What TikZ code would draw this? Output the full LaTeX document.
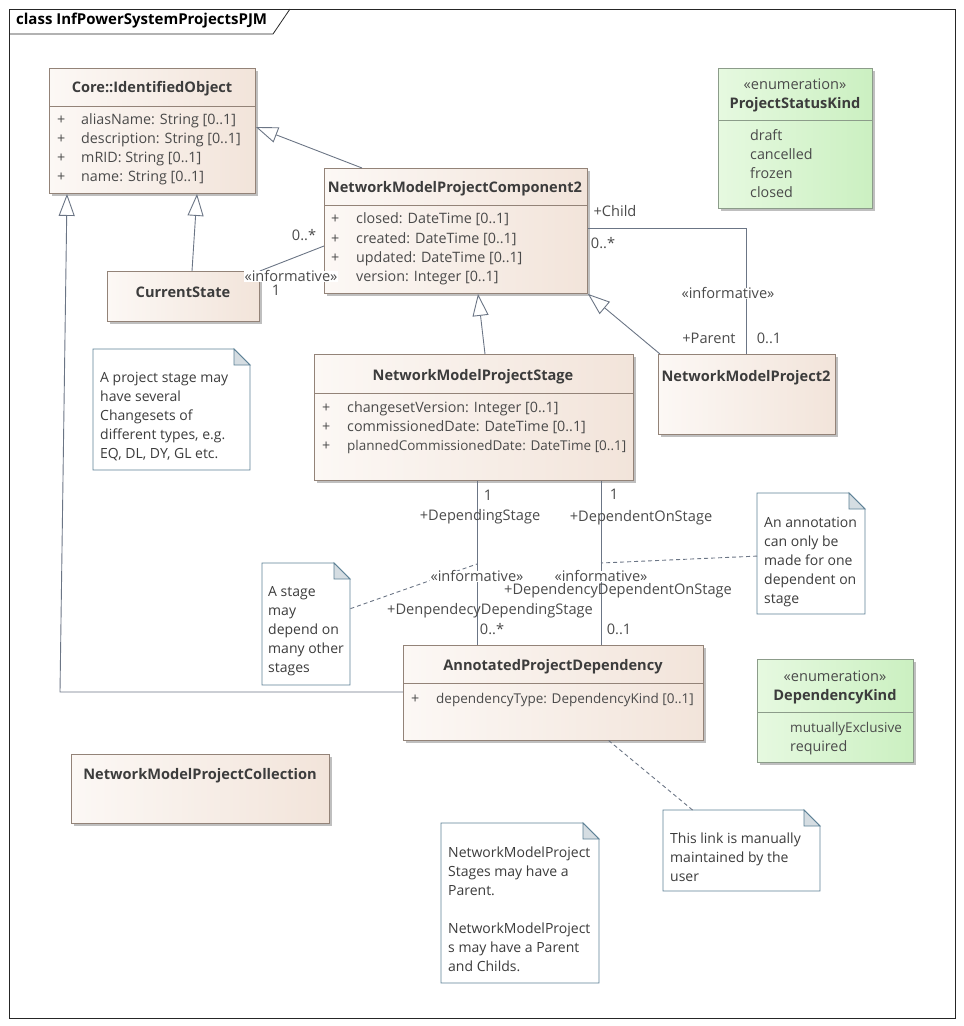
\documentclass[tikz,border=0pt]{standalone}
\usepackage{fontspec}
\setmainfont{Open Sans}
\usetikzlibrary{arrows.meta,shadows}
\definecolor{clsL}{HTML}{FCF8F5}
\definecolor{clsR}{HTML}{F2E4DA}
\definecolor{clsB}{HTML}{938378}
\definecolor{enL}{HTML}{E6F9E0}
\definecolor{enR}{HTML}{CBF0C1}
\definecolor{enB}{HTML}{8C9C8A}
\definecolor{noteB}{HTML}{5D8196}
\definecolor{noteEar}{HTML}{D5DDE2}
\definecolor{lnC}{HTML}{6B7585}
\definecolor{txC}{HTML}{4A4A4A}
\definecolor{nmC}{HTML}{3C3C3C}
\newcommand\umlnote[5]{%
  \draw[noteB, fill=white, line width=0.9pt] (#2,#3) -- ({#2+#4-16},#3) -- ({#2+#4},{#3+16}) -- ({#2+#4},{#3+#5}) -- (#2,{#3+#5}) -- cycle;
  \filldraw[draw=noteB, fill=noteEar, line width=0.9pt] ({#2+#4-16},#3) -- ({#2+#4-16},{#3+16}) -- ({#2+#4},{#3+16}) -- cycle;
  \node[inner sep=0, minimum width=#4pt, minimum height=#5pt, anchor=north west] (#1) at (#2,#3) {};
}
\begin{document}
\begin{tikzpicture}[x=1pt,y=-1pt,
  shad/.style={drop shadow={shadow xshift=2.5pt, shadow yshift=-2.5pt, fill=black, opacity=0.25}},
  cls/.style={draw=clsB, line width=0.9pt, left color=clsL, right color=clsR, shad, inner sep=0, anchor=north west},
  enumbox/.style={draw=enB, line width=0.9pt, left color=enL, right color=enR, shad, inner sep=0, anchor=north west},
  cname/.style={font=\fontsize{14.6pt}{17pt}\selectfont\bfseries, text=nmC, inner sep=0, text height=11pt, text depth=0pt},
  attr/.style={font=\fontsize{14.3pt}{17pt}\selectfont, text=txC, inner sep=0, anchor=west, text height=11pt, text depth=0pt},
  small/.style={font=\fontsize{13.5pt}{17pt}\selectfont},
  lbl/.style={font=\fontsize{14.6pt}{17pt}\selectfont, text=txC, inner sep=0, text height=11pt, text depth=0pt},
  stereo/.style={lbl, fill=white, inner xsep=1pt},
  notetext/.style={font=\fontsize{14pt}{19pt}\selectfont, text=nmC, inner sep=0, anchor=north west, align=left},
  gen/.style={draw=lnC, line width=0.9pt, -{Triangle[length=22pt,width=16pt,fill=white]}},
  assoc/.style={draw=lnC, line width=0.9pt},
  notelink/.style={draw=lnC, line width=0.9pt, dash pattern=on 4pt off 3pt},
  sep/.style={draw=clsB, line width=0.9pt}
]
\useasboundingbox (0,0) rectangle (964,1026);
% frame
\draw[line width=0.8pt, draw=black!85] (9,9) rectangle (955,1018);
\draw[line width=0.8pt, draw=black!85] (9,34) -- (273,34) -- (290,9);
\node[font=\fontsize{15pt}{17pt}\selectfont\bfseries, inner sep=0, anchor=west] (title) at (16,21) {class InfPowerSystemProjectsPJM};

% ===== classes =====
\node[cls, minimum width=206pt, minimum height=125pt] (io) at (49,68) {};
\draw[sep] (49,106) -- (255,106);
\node[cname] (ioN) at (152,87) {Core::IdentifiedObject};
\node[attr] (ioP1) at (57,119) {+};
\node[attr] (ioA1) at (81,119) {aliasName: String [0..1]};
\node[attr] (ioP2) at (57,138) {+};
\node[attr] (ioA2) at (81,138) {description: String [0..1]};
\node[attr] (ioP3) at (57,157) {+};
\node[attr] (ioA3) at (81,157) {mRID: String [0..1]};
\node[attr] (ioP4) at (57,176) {+};
\node[attr] (ioA4) at (81,176) {name: String [0..1]};

\node[cls, minimum width=263pt, minimum height=125pt] (nmpc) at (324,168) {};
\draw[sep] (324,205) -- (587,205);
\node[cname] (nmpcN) at (455,187) {NetworkModelProjectComponent2};
\node[attr] (nmpcP1) at (331,218) {+};
\node[attr] (nmpcA1) at (356,218) {closed: DateTime [0..1]};
\node[attr] (nmpcP2) at (331,238) {+};
\node[attr] (nmpcA2) at (356,238) {created: DateTime [0..1]};
\node[attr] (nmpcP3) at (331,257) {+};
\node[attr] (nmpcA3) at (356,257) {updated: DateTime [0..1]};
\node[attr] (nmpcA4) at (356,276) {version: Integer [0..1]};

\node[cls, minimum width=152pt, minimum height=50pt] (cs) at (107,271) {};
\node[cname] (csN) at (183,292) {CurrentState};

\node[cls, minimum width=319pt, minimum height=126pt] (stage) at (314,354) {};
\draw[sep] (314,393) -- (633,393);
\node[cname] (stageN) at (473,375) {NetworkModelProjectStage};
\node[attr] (stP1) at (322,407) {+};
\node[attr] (stA1) at (347,407) {changesetVersion: Integer [0..1]};
\node[attr] (stP2) at (322,426) {+};
\node[attr] (stA2) at (347,426) {commissionedDate: DateTime [0..1]};
\node[attr] (stP3) at (322,445) {+};
\node[attr, small] (stA3) at (347,445) {plannedCommissionedDate: DateTime [0..1]};

\node[cls, minimum width=177pt, minimum height=80pt] (nmp) at (658,354) {};
\node[cname] (nmpN) at (746,376) {NetworkModelProject2};

\node[enumbox, minimum width=154pt, minimum height=140pt] (psk) at (718,68) {};
\draw[draw=enB, line width=0.9pt] (718,120) -- (872,120);
\node[lbl] (pskS) at (795,84) {«enumeration»};
\node[cname] (pskN) at (795,103) {ProjectStatusKind};
\node[attr] (psk1) at (750,135) {draft};
\node[attr] (psk2) at (750,154) {cancelled};
\node[attr] (psk3) at (750,173) {frozen};
\node[attr] (psk4) at (750,192) {closed};

\node[cls, minimum width=300pt, minimum height=95pt] (apd) at (403,645) {};
\draw[sep] (403,683) -- (703,683);
\node[cname] (apdN) at (553,665) {AnnotatedProjectDependency};
\node[attr] (apdP1) at (411,698) {+};
\node[attr, small] (apdA1) at (436,698) {dependencyType: DependencyKind [0..1]};

\node[enumbox, minimum width=156pt, minimum height=103pt] (dk) at (757,659) {};
\draw[draw=enB, line width=0.9pt] (757,712) -- (913,712);
\node[lbl] (dkS) at (835,676) {«enumeration»};
\node[cname] (dkN) at (835,695) {DependencyKind};
\node[attr, small] (dk1) at (790,727) {mutuallyExclusive};
\node[attr] (dk2) at (790,746) {required};

\node[cls, minimum width=258pt, minimum height=69pt] (coll) at (71,754) {};
\node[cname] (collN) at (200,774) {NetworkModelProjectCollection};

% ===== notes =====
\umlnote{n1}{93}{349}{157}{121}
\node[notetext] (n1t) at (100,372) {A project stage may\\have several\\Changesets of\\different types, e.g.\\EQ, DL, DY, GL etc.};
\umlnote{n2}{262}{563}{88}{122}
\node[notetext] (n2t) at (268,586) {A stage\\may\\depend on\\many other\\stages};
\umlnote{n3}{757}{493}{108}{121}
\node[notetext] (n3t) at (764,517) {An annotation\\can only be\\made for one\\dependent on\\stage};
\umlnote{n4}{663}{810}{157}{81}
\node[notetext] (n4t) at (670,833) {This link is manually\\maintained by the\\user};
\umlnote{n5}{441}{823}{158}{160}
\node[notetext] (n5t) at (448,847) {NetworkModelProject\\Stages may have a\\Parent.\\[19pt]NetworkModelProject\\s may have a Parent\\and Childs.};

% ===== connectors =====
\draw[gen] (cs.north -| 192,0) -- (io.south -| 197,0);
\draw[gen] (apd.west |- 0,692) -- (60,692) -- (io.south -| 67,0);
\draw[gen] (nmpc.north -| 362,0) -- (io.east |- 0,127);
\draw[gen] (stage.north -| 485,0) -- (nmpc.south -| 478,0);
\draw[gen] (nmp.north west) ++(2,0) -- (nmpc.south east);
\draw[assoc] (nmpc.west |- 0,246) -- (cs.north east);
\draw[assoc] (nmpc.east |- 0,228) -| (nmp.north -| 746,0);
\draw[assoc] (stage.south -| 477,0) -- (apd.north -| 477,0);
\draw[assoc] (stage.south -| 601,0) -- (apd.north -| 601,0);
\coordinate (l1m) at (477,564);
\coordinate (l2m) at (601,563);
\coordinate (apdb) at (608,740);
\draw[notelink] (n2) -- (l1m);
\draw[notelink] (n3) -- (l2m);
\draw[notelink] (n4) -- (apdb);

% ===== labels =====
\node[lbl] (c1m) at (304,235) {0..*};
\node[lbl] (c1n) at (276,290) {1};
\node[stereo] (c1s) at (291,276) {«informative»};
\node[lbl] (c2a) at (615,211) {+Child};
\node[lbl] (c2b) at (603,243) {0..*};
\node[stereo] (c2s) at (728,293) {«informative»};
\node[lbl] (c2c) at (709,338) {+Parent};
\node[lbl] (c2d) at (769,338) {0..1};
\node[lbl] (d1a) at (488,495) {1};
\node[lbl] (d1b) at (480,515) {+DependingStage};
\node[stereo] (d1s) at (477,576) {«informative»};
\node[lbl] (d1c) at (490,609) {+DenpendecyDependingStage};
\node[lbl] (d1d) at (492,629) {0..*};
\node[lbl] (d2a) at (614,494) {1};
\node[lbl] (d2b) at (641,516) {+DependentOnStage};
\node[stereo] (d2s) at (601,576) {«informative»};
\node[lbl] (d2c) at (618,589) {+DependencyDependentOnStage};
\node[lbl] (d2d) at (619,629) {0..1};
\end{tikzpicture}
\end{document}
